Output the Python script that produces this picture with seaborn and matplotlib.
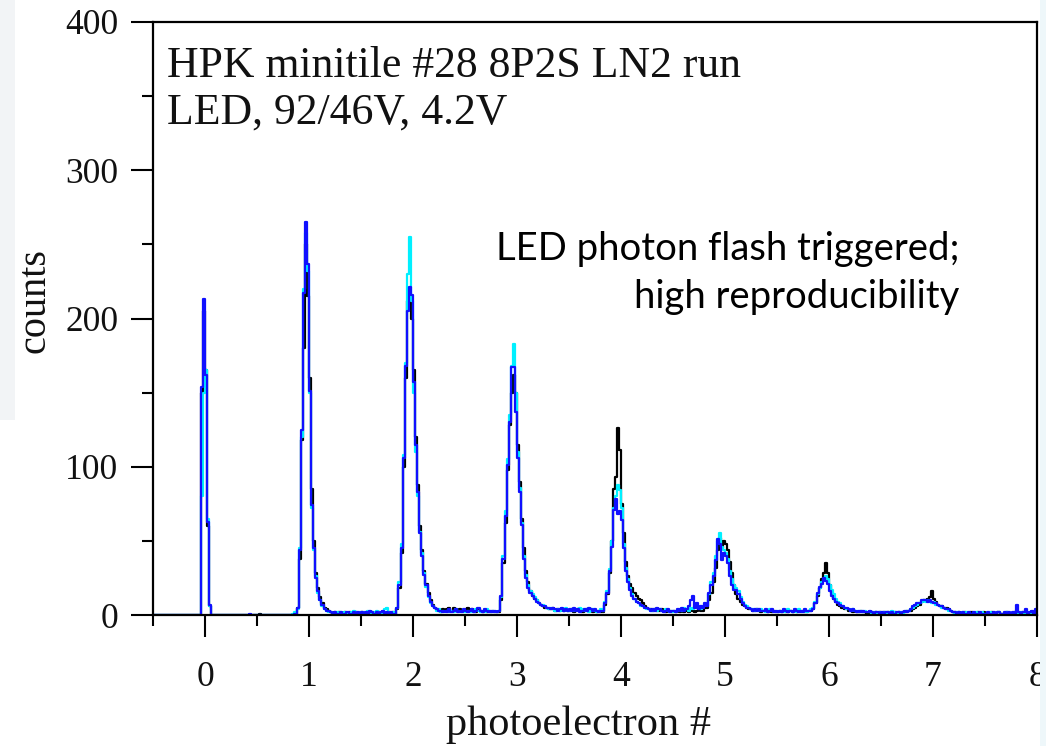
import numpy as np
import pandas as pd
import matplotlib
matplotlib.use("Agg")
import matplotlib.pyplot as plt
import seaborn as sns
from matplotlib.patches import Rectangle
from matplotlib.ticker import MultipleLocator

# Histogram binning (photoelectron units)
BIN_START = -0.5
BIN_WIDTH = 0.02

# Counts per bin, one row per half photoelectron (25 bins each), from -0.5 to 8.0
counts_black = [
    0, 0, 0, 0, 0, 0, 0, 0, 0, 0, 0, 0, 0, 0, 0, 0, 0, 0, 0, 0, 0, 0, 0, 150, 205,
    165, 60, 6, 0, 0, 0, 0, 0, 0, 0, 0, 0, 0, 0, 0, 0, 0, 0, 0, 0, 0, 0, 0, 0, 0,
    0, 1, 0, 0, 0, 0, 0, 0, 0, 0, 0, 0, 0, 0, 0, 0, 0, 0, 0, 5, 38, 118, 180, 250, 215,
    160, 85, 50, 28, 18, 12, 8, 5, 4, 3, 2, 1, 2, 1, 2, 1, 1, 2, 1, 2, 1, 1, 2, 1, 1,
    2, 1, 1, 2, 1, 2, 1, 1, 2, 1, 2, 1, 1, 2, 1, 2, 1, 4, 18, 42, 100, 160, 212, 216, 200,
    165, 120, 88, 60, 44, 30, 21, 15, 10, 7, 5, 4, 3, 2, 4, 3, 4, 5, 3, 5, 4, 3, 4, 3, 3,
    4, 5, 3, 4, 3, 2, 4, 3, 2, 3, 2, 3, 2, 3, 2, 2, 2, 10, 35, 62, 98, 128, 150, 162, 150,
    115, 90, 65, 45, 30, 22, 16, 13, 11, 10, 8, 7, 6, 5, 5, 4, 4, 5, 3, 4, 3, 4, 3, 4, 3,
    3, 4, 2, 3, 4, 3, 2, 3, 4, 3, 4, 2, 3, 2, 3, 2, 2, 7, 14, 28, 50, 85, 93, 126, 111,
    75, 55, 36, 26, 21, 18, 15, 13, 11, 10, 8, 6, 5, 4, 4, 3, 4, 3, 3, 4, 3, 2, 3, 3, 2,
    3, 2, 3, 2, 3, 2, 3, 2, 4, 3, 2, 3, 4, 3, 3, 5, 5, 10, 15, 22, 32, 44, 52, 45, 50,
    48, 44, 36, 28, 20, 14, 11, 9, 7, 6, 5, 4, 4, 3, 3, 4, 3, 2, 3, 3, 2, 3, 2, 3, 2,
    2, 3, 2, 3, 2, 2, 3, 2, 3, 2, 3, 2, 3, 2, 2, 3, 3, 4, 8, 13, 18, 24, 28, 35, 28,
    20, 15, 11, 9, 7, 6, 5, 4, 4, 3, 3, 2, 3, 2, 2, 3, 2, 2, 1, 2, 2, 1, 2, 1, 2,
    1, 2, 1, 2, 1, 1, 2, 1, 2, 1, 2, 2, 3, 3, 3, 4, 5, 6, 7, 9, 10, 10, 11, 12, 16,
    11, 9, 7, 6, 6, 5, 5, 4, 3, 2, 2, 1, 2, 1, 1, 2, 1, 1, 2, 1, 1, 2, 1, 1, 2,
    1, 1, 1, 2, 1, 1, 2, 1, 1, 1, 2, 1, 1, 1, 2, 1, 1, 1, 2, 1, 1, 1, 2, 1, 1,
]

counts_cyan = [
    0, 0, 0, 0, 0, 0, 0, 0, 0, 0, 0, 0, 0, 0, 0, 0, 0, 0, 0, 0, 0, 0, 0, 80, 150,
    165, 65, 6, 0, 0, 0, 0, 0, 0, 0, 0, 0, 0, 0, 0, 0, 0, 0, 0, 0, 0, 0, 0, 0, 0,
    0, 0, 0, 0, 0, 0, 0, 0, 0, 0, 0, 0, 0, 0, 0, 0, 0, 1, 2, 4, 45, 120, 220, 258, 232,
    150, 72, 44, 26, 15, 10, 6, 4, 3, 2, 2, 1, 1, 2, 1, 2, 1, 2, 1, 1, 2, 3, 2, 1, 2,
    1, 2, 1, 3, 2, 1, 2, 3, 2, 1, 2, 4, 5, 2, 1, 2, 1, 5, 22, 48, 108, 170, 230, 255, 212,
    150, 110, 80, 56, 42, 28, 19, 12, 8, 6, 5, 3, 4, 2, 3, 2, 3, 2, 3, 2, 4, 3, 2, 3, 2,
    2, 3, 2, 3, 2, 4, 3, 2, 3, 2, 4, 3, 2, 3, 2, 2, 3, 12, 40, 70, 105, 135, 168, 183, 150,
    110, 86, 62, 40, 27, 20, 16, 14, 12, 10, 8, 7, 7, 6, 5, 4, 5, 4, 3, 4, 3, 4, 3, 5, 3,
    3, 4, 3, 4, 3, 5, 4, 3, 4, 2, 3, 4, 3, 2, 3, 4, 3, 9, 16, 31, 50, 72, 80, 88, 84,
    72, 48, 32, 24, 18, 14, 11, 9, 8, 6, 6, 5, 4, 4, 3, 3, 4, 3, 4, 3, 3, 4, 3, 2, 3,
    2, 3, 3, 4, 3, 5, 4, 3, 5, 4, 6, 7, 5, 4, 6, 7, 7, 14, 22, 28, 40, 50, 55, 46, 44,
    42, 38, 30, 24, 20, 18, 16, 12, 9, 7, 6, 5, 4, 4, 3, 4, 3, 4, 3, 2, 3, 4, 3, 3, 2,
    3, 2, 3, 2, 3, 4, 3, 2, 3, 2, 4, 3, 2, 3, 2, 3, 4, 5, 9, 14, 18, 22, 24, 26, 24,
    20, 17, 14, 11, 9, 8, 6, 5, 4, 4, 3, 4, 3, 3, 2, 3, 2, 3, 2, 2, 1, 2, 2, 1, 2,
    1, 2, 2, 1, 2, 3, 2, 1, 2, 2, 1, 2, 3, 3, 4, 5, 6, 7, 8, 9, 10, 9, 10, 9, 8,
    9, 7, 7, 6, 5, 5, 4, 3, 3, 2, 1, 2, 1, 1, 2, 1, 2, 1, 1, 1, 2, 1, 1, 2, 1,
    1, 1, 2, 1, 1, 1, 2, 1, 1, 1, 2, 1, 1, 1, 2, 1, 1, 2, 1, 1, 2, 1, 1, 2, 1,
]

counts_blue = [
    0, 0, 0, 0, 0, 0, 0, 0, 0, 0, 0, 0, 0, 0, 0, 0, 0, 0, 0, 0, 0, 0, 0, 154, 213,
    162, 63, 7, 0, 0, 0, 0, 0, 0, 0, 0, 0, 0, 0, 0, 0, 0, 0, 0, 0, 0, 1, 0, 0, 0,
    0, 0, 0, 0, 0, 0, 0, 0, 0, 0, 0, 0, 0, 0, 0, 0, 0, 0, 1, 5, 44, 125, 217, 265, 237,
    151, 74, 45, 25, 16, 10, 7, 4, 3, 3, 2, 1, 2, 1, 1, 2, 1, 1, 2, 1, 1, 2, 1, 2, 1,
    2, 1, 2, 1, 3, 2, 1, 2, 1, 2, 3, 1, 2, 1, 2, 1, 1, 5, 20, 45, 106, 168, 205, 221, 216,
    157, 115, 83, 55, 40, 27, 20, 13, 9, 6, 5, 4, 3, 3, 2, 3, 2, 4, 2, 3, 4, 2, 3, 2, 4,
    3, 2, 3, 4, 2, 3, 5, 3, 2, 4, 3, 2, 3, 2, 3, 2, 3, 13, 38, 67, 101, 130, 167, 167, 137,
    106, 83, 61, 38, 25, 18, 15, 13, 11, 9, 8, 7, 6, 6, 5, 5, 4, 5, 4, 3, 4, 5, 3, 4, 3,
    4, 3, 5, 3, 4, 2, 3, 4, 3, 5, 4, 3, 4, 3, 2, 3, 3, 8, 15, 30, 46, 71, 78, 68, 70,
    64, 45, 30, 22, 17, 13, 11, 9, 8, 7, 6, 5, 5, 4, 3, 4, 3, 5, 4, 3, 2, 3, 4, 2, 3,
    3, 2, 4, 3, 5, 3, 4, 6, 10, 13, 5, 8, 4, 6, 5, 8, 6, 15, 20, 26, 37, 51, 48, 37, 42,
    40, 35, 26, 20, 17, 17, 14, 11, 8, 6, 5, 5, 4, 3, 4, 3, 4, 3, 3, 4, 2, 3, 4, 2, 3,
    2, 3, 2, 4, 3, 2, 3, 2, 4, 3, 2, 3, 2, 4, 3, 3, 3, 4, 8, 15, 19, 21, 25, 23, 21,
    16, 13, 11, 9, 8, 7, 6, 5, 5, 4, 3, 4, 3, 2, 3, 2, 3, 2, 2, 3, 2, 1, 2, 2, 1,
    2, 1, 2, 2, 1, 2, 1, 2, 2, 1, 2, 3, 2, 3, 4, 6, 7, 8, 8, 10, 10, 10, 9, 10, 9,
    8, 8, 7, 6, 6, 5, 4, 4, 3, 2, 2, 1, 2, 1, 2, 1, 1, 2, 1, 2, 1, 1, 2, 1, 1,
    1, 2, 1, 1, 2, 1, 2, 1, 1, 2, 1, 2, 1, 2, 1, 7, 2, 1, 2, 4, 1, 2, 3, 1, 4,
]

series_counts = [counts_black, counts_cyan, counts_blue]
series_colors = ["#000000", "#00f0ff", "#1010ff"]

x_ticks = [0, 1, 2, 3, 4, 5, 6, 7, 8]
y_ticks = [0, 100, 200, 300, 400]

title_lines = ["HPK minitile #28 8P2S LN2 run", "LED, 92/46V, 4.2V"]
note_lines = ["LED photon flash triggered;", "high reproducibility"]

sns.set_theme(style="white")
plt.rcParams["font.family"] = ["Liberation Serif", "DejaVu Serif"]

W, H = 1046, 746
fig = plt.figure(figsize=(W / 100, H / 100), dpi=100)
fig.patch.set_facecolor("white")
ax = fig.add_axes([153 / W, 1 - 615 / H, (1037 - 153) / W, (615 - 22) / H])

n_bins = len(counts_blue)
centers = BIN_START + BIN_WIDTH * (np.arange(n_bins) + 0.5)
bin_range = (BIN_START, BIN_START + BIN_WIDTH * n_bins)

for counts, color in zip(series_counts, series_colors):
    df = pd.DataFrame({"pe": centers, "n": counts})
    sns.histplot(data=df, x="pe", weights="n", binwidth=BIN_WIDTH, binrange=bin_range,
                 element="step", fill=False, color=color, linewidth=1.6, ax=ax)

ax.set_xlim(-0.5, 8.0)
ax.set_ylim(0, 400)
ax.set_xticks(x_ticks)
ax.set_yticks(y_ticks)
ax.xaxis.set_minor_locator(MultipleLocator(0.5))
ax.yaxis.set_minor_locator(MultipleLocator(50))
ax.tick_params(axis="both", which="major", direction="out", length=16, width=1.5,
               color="black", labelsize=25.5, labelcolor="#111111",
               bottom=True, left=True, top=False, right=False)
ax.tick_params(axis="both", which="minor", direction="out", length=8, width=1.5,
               color="black", bottom=True, left=True, top=False, right=False)
ax.tick_params(axis="x", which="major", pad=17)
ax.tick_params(axis="y", which="major", pad=9)
for side in ["left", "right", "top", "bottom"]:
    ax.spines[side].set_visible(True)
    ax.spines[side].set_color("black")
    ax.spines[side].set_linewidth(1.6)
ax.grid(False)

ax.set_xlabel("photoelectron #", fontsize=30.5, color="#111111", va="top")
ax.xaxis.set_label_coords((579 - 153) / 884, -0.152)
ax.set_ylabel("counts", fontsize=29, color="#111111", ha="center", va="center")
ax.yaxis.set_label_coords((34.5 - 153) / 884, 0.531)

ax.text(0.016, 0.907, title_lines[0], transform=ax.transAxes, fontsize=31.5,
        va="baseline", ha="left", color="#111111")
ax.text(0.016, 0.828, title_lines[1], transform=ax.transAxes, fontsize=31.5,
        va="baseline", ha="left", color="#111111")

ax.text((959 - 153) / 884, (615 - 260) / 593, note_lines[0], transform=ax.transAxes,
        fontsize=27.5, va="baseline", ha="right", color="black", family=["Lato", "DejaVu Sans"])
ax.text((959 - 153) / 884, (615 - 308) / 593, note_lines[1], transform=ax.transAxes,
        fontsize=27.5, va="baseline", ha="right", color="black", family=["Lato", "DejaVu Sans"])

# pale page margins on both sides
fig.add_artist(Rectangle((0, 1 - 420 / H), 15 / W, 420 / H, transform=fig.transFigure,
                         facecolor="#f2f4f6", edgecolor="none", zorder=-5))
fig.add_artist(Rectangle((1039.5 / W, 0), 7 / W, 1, transform=fig.transFigure,
                         facecolor="#eef7fa", edgecolor="none", zorder=10))

fig.savefig("out.png", dpi=100, facecolor="white")
